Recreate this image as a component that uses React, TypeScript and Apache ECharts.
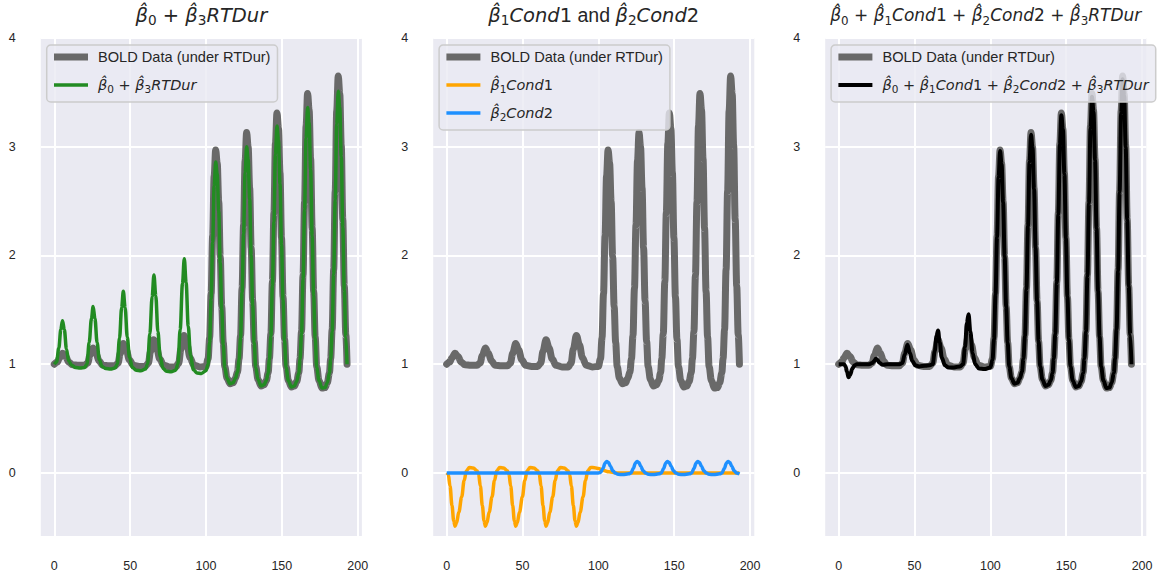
import React, { useEffect, useRef } from 'react';
import * as echarts from 'echarts';

// ---------- names / ticks ----------
const BOLD_NAME = 'BOLD Data (under RTDur)';
const RT_NAME = 'β̂₀ + β̂₃RTDur';
const C1_NAME = 'β̂₁Cond1';
const C2_NAME = 'β̂₂Cond2';
const FULL_NAME = 'β̂₀ + β̂₁Cond1 + β̂₂Cond2 + β̂₃RTDur';

const xTicks = [0, 50, 100, 150, 200];
const yTicks = [0, 1, 2, 3, 4];

// ---------- data ----------
const boldData: [number, number][] = [
  [0, 1.0], [2, 1.02], [3.5, 1.06], [5.5, 1.1], [7.5, 1.07], [9.5, 1.02], [12, 0.995], [16, 0.99],
  [20, 0.99], [22, 1.01], [23.5, 1.08], [25.5, 1.15], [27.5, 1.1], [29.5, 1.03], [32, 0.99], [36, 0.985],
  [40, 0.985], [42, 1.01], [43.5, 1.1], [45.5, 1.19], [47.5, 1.13], [49.5, 1.04], [52, 0.99], [56, 0.98],
  [60, 0.98], [62, 1.01], [63.5, 1.12], [65.5, 1.225], [67.5, 1.15], [69.5, 1.05], [72, 0.99], [76, 0.975],
  [80, 0.975], [82, 1.01], [83.5, 1.14], [85.5, 1.265], [87.5, 1.18], [89.5, 1.06], [92, 0.99], [96, 0.975],
  [100, 0.98],
  [101.4, 1.05], [102.4, 1.24], [103.4, 1.65], [104.4, 2.18], [105.4, 2.73], [106.4, 2.97], [107.4, 2.85], [108.4, 2.5],
  [109.4, 1.99], [110.4, 1.53], [111.4, 1.2], [112.4, 0.98], [113.9, 0.87], [115.9, 0.82], [117.9, 0.83], [119.4, 0.87], [120.8, 0.93],
  [121.8, 1.05], [122.8, 1.26], [123.8, 1.7], [124.8, 2.28], [125.8, 2.87], [126.8, 3.13], [127.8, 3.0], [128.8, 2.62],
  [129.8, 2.07], [130.8, 1.58], [131.8, 1.21], [132.8, 0.98], [134.3, 0.86], [136.3, 0.8], [138.3, 0.81], [139.8, 0.85], [141, 0.92],
  [141.8, 1.05], [142.8, 1.28], [143.8, 1.76], [144.8, 2.39], [145.8, 3.03], [146.8, 3.31], [147.8, 3.17], [148.8, 2.76],
  [149.8, 2.16], [150.8, 1.62], [151.8, 1.23], [152.8, 0.98], [154.3, 0.85], [156.3, 0.79], [158.3, 0.8], [159.8, 0.84], [161.2, 0.92],
  [162, 1.05], [163, 1.3], [164, 1.82], [165, 2.49], [166, 3.19], [167, 3.49], [168, 3.34], [169, 2.89],
  [170, 2.25], [171, 1.67], [172, 1.25], [173, 0.98], [174.5, 0.85], [176.5, 0.78], [178.5, 0.785], [180, 0.83], [181.4, 0.92],
  [182.2, 1.05], [183.2, 1.32], [184.2, 1.87], [185.2, 2.59], [186.2, 3.33], [187.2, 3.65], [188.2, 3.49], [189.2, 3.01],
  [190.2, 2.33], [191.2, 1.72], [192.2, 1.27], [193, 1.0],
];

const rtdurFit: [number, number][] = [
  [0, 1.0], [1.5, 1.02], [3, 1.15], [4.3, 1.32], [5.4, 1.4], [6.6, 1.32], [8, 1.14], [9.5, 1.03], [11.5, 0.99], [14, 0.97], [17, 0.965], [20, 0.97],
  [21.5, 1.0], [23, 1.2], [24.5, 1.42], [25.6, 1.53], [26.8, 1.42], [28.2, 1.2], [29.7, 1.04], [31.5, 0.98], [34, 0.96], [37, 0.955], [40, 0.965],
  [41.5, 1.0], [43, 1.24], [44.4, 1.52], [45.5, 1.67], [46.7, 1.52], [48.1, 1.25], [49.6, 1.06], [51.5, 0.97], [54, 0.945], [57, 0.94], [60, 0.955],
  [61.5, 1.0], [63, 1.28], [64.5, 1.62], [65.7, 1.82], [66.9, 1.63], [68.3, 1.3], [69.8, 1.07], [71.7, 0.96], [74, 0.935], [77, 0.93], [80, 0.945],
  [81.5, 1.0], [83, 1.32], [84.5, 1.74], [85.7, 1.97], [86.9, 1.75], [88.3, 1.35], [89.8, 1.08], [91.7, 0.95], [94, 0.92], [97, 0.915], [100, 0.94],
  [101.4, 1.0], [102.4, 1.2], [103.4, 1.6], [104.4, 2.12], [105.4, 2.64], [106.4, 2.86], [107.4, 2.75], [108.4, 2.41],
  [109.4, 1.93], [110.4, 1.5], [111.4, 1.18], [112.4, 0.97], [113.9, 0.87], [115.9, 0.82], [117.9, 0.83], [119.4, 0.87], [120.8, 0.93],
  [121.8, 1.04], [122.8, 1.24], [123.8, 1.66], [124.8, 2.2], [125.8, 2.76], [126.8, 3.0], [127.8, 2.88], [128.8, 2.52],
  [129.8, 2.0], [130.8, 1.54], [131.8, 1.2], [132.8, 0.97], [134.3, 0.86], [136.3, 0.8], [138.3, 0.81], [139.8, 0.85], [141, 0.92],
  [141.8, 1.04], [142.8, 1.26], [143.8, 1.72], [144.8, 2.31], [145.8, 2.93], [146.8, 3.19], [147.8, 3.06], [148.8, 2.66],
  [149.8, 2.1], [150.8, 1.59], [151.8, 1.22], [152.8, 0.97], [154.3, 0.85], [156.3, 0.79], [158.3, 0.8], [159.8, 0.84], [161.2, 0.92],
  [162, 1.04], [163, 1.28], [164, 1.78], [165, 2.42], [166, 3.08], [167, 3.36], [168, 3.22], [169, 2.79],
  [170, 2.18], [171, 1.63], [172, 1.24], [173, 0.97], [174.5, 0.85], [176.5, 0.78], [178.5, 0.785], [180, 0.83], [181.4, 0.92],
  [182.2, 1.04], [183.2, 1.3], [184.2, 1.83], [185.2, 2.51], [186.2, 3.21], [187.2, 3.51], [188.2, 3.36], [189.2, 2.91],
  [190.2, 2.26], [191.2, 1.68], [192.2, 1.25], [193, 1.0],
];

const cond1Fit: [number, number][] = [
  [0, 0], [1, -0.01], [2.2, -0.12], [3.5, -0.3], [4.6, -0.44], [5.5, -0.49], [6.5, -0.46], [8, -0.36], [9.9, -0.22], [11.5, -0.07], [13, 0.02], [15, 0.05], [17.5, 0.045], [20, 0.02],
  [21, -0.01], [22.2, -0.12], [23.5, -0.3], [24.6, -0.44], [25.5, -0.49], [26.5, -0.46], [28, -0.36], [29.9, -0.22], [31.5, -0.07], [33, 0.02], [35, 0.05], [37.5, 0.045], [40, 0.02],
  [41, -0.01], [42.2, -0.12], [43.5, -0.3], [44.6, -0.44], [45.5, -0.49], [46.5, -0.46], [48, -0.36], [49.9, -0.22], [51.5, -0.07], [53, 0.02], [55, 0.05], [57.5, 0.045], [60, 0.02],
  [61, -0.01], [62.2, -0.12], [63.5, -0.3], [64.6, -0.44], [65.5, -0.49], [66.5, -0.46], [68, -0.36], [69.9, -0.22], [71.5, -0.07], [73, 0.02], [75, 0.05], [77.5, 0.045], [80, 0.02],
  [81, -0.01], [82.2, -0.12], [83.5, -0.3], [84.6, -0.44], [85.5, -0.49], [86.5, -0.46], [88, -0.36], [89.9, -0.22], [91.5, -0.07], [93, 0.02], [95, 0.05], [97.5, 0.048],
  [100, 0.04], [103, 0.025], [107, 0.01], [112, 0.0], [193, 0.0],
];

const cond2Fit: [number, number][] = [
  [0, 0], [100, 0], [101.5, 0.005], [103, 0.04], [104.4, 0.09], [105.5, 0.105], [106.7, 0.095], [108, 0.06], [109.5, 0.02], [111, 0.0], [113, -0.012], [116, -0.015], [120, -0.008],
  [121.5, 0.0], [123, 0.04], [124.4, 0.09], [125.5, 0.105], [126.7, 0.095], [128, 0.06], [129.5, 0.02], [131, 0.0], [133, -0.012], [136, -0.015], [140, -0.008],
  [141.5, 0.0], [143, 0.04], [144.4, 0.09], [145.5, 0.105], [146.7, 0.095], [148, 0.06], [149.5, 0.02], [151, 0.0], [153, -0.012], [156, -0.015], [160, -0.008],
  [161.5, 0.0], [163, 0.04], [164.4, 0.09], [165.5, 0.105], [166.7, 0.095], [168, 0.06], [169.5, 0.02], [171, 0.0], [173, -0.012], [176, -0.015], [180, -0.008],
  [181.5, 0.0], [183, 0.04], [184.4, 0.09], [185.5, 0.105], [186.7, 0.095], [188, 0.06], [189.5, 0.02], [191, 0.0], [193, -0.01],
];

const fullFit: [number, number][] = [
  [0, 1.0], [2, 1.0], [3.5, 1.0], [4.5, 0.98], [5.5, 0.93], [6.5, 0.88], [7.5, 0.9], [9, 0.96], [10.5, 0.99], [12, 1.0], [20, 1.0],
  [22, 1.01], [23.5, 1.03], [24.5, 1.05], [25.5, 1.04], [27, 1.01], [29, 0.995], [32, 1.0], [40, 1.0],
  [42, 1.01], [43.5, 1.09], [45.3, 1.18], [47, 1.1], [48.5, 1.03], [50.5, 0.99], [53, 0.98], [57, 0.985], [60, 0.99],
  [62, 1.0], [63.3, 1.12], [64.5, 1.26], [65.5, 1.31], [66.6, 1.2], [68, 1.06], [70, 0.99], [72.5, 0.97], [76, 0.97], [80, 0.98],
  [82, 1.0], [83.3, 1.16], [84.5, 1.38], [85.6, 1.46], [86.8, 1.3], [88.3, 1.1], [90, 1.0], [92.5, 0.96], [96, 0.955], [100, 0.97],
  [101.4, 1.04], [102.4, 1.23], [103.4, 1.64], [104.4, 2.17], [105.4, 2.72], [106.4, 2.96], [107.4, 2.84], [108.4, 2.49],
  [109.4, 1.99], [110.4, 1.53], [111.4, 1.2], [112.4, 0.98], [113.9, 0.87], [115.9, 0.82], [117.9, 0.83], [119.4, 0.87], [120.8, 0.93],
  [121.8, 1.05], [122.8, 1.26], [123.8, 1.69], [124.8, 2.27], [125.8, 2.86], [126.8, 3.11], [127.8, 2.99], [128.8, 2.61],
  [129.8, 2.07], [130.8, 1.58], [131.8, 1.21], [132.8, 0.98], [134.3, 0.86], [136.3, 0.8], [138.3, 0.81], [139.8, 0.85], [141, 0.92],
  [141.8, 1.05], [142.8, 1.28], [143.8, 1.75], [144.8, 2.38], [145.8, 3.02], [146.8, 3.29], [147.8, 3.16], [148.8, 2.75],
  [149.8, 2.16], [150.8, 1.62], [151.8, 1.23], [152.8, 0.98], [154.3, 0.85], [156.3, 0.79], [158.3, 0.8], [159.8, 0.84], [161.2, 0.92],
  [162, 1.05], [163, 1.3], [164, 1.81], [165, 2.48], [166, 3.17], [167, 3.46], [168, 3.32], [169, 2.88],
  [170, 2.25], [171, 1.67], [172, 1.25], [173, 0.98], [174.5, 0.85], [176.5, 0.78], [178.5, 0.785], [180, 0.83], [181.4, 0.92],
  [182.2, 1.05], [183.2, 1.32], [184.2, 1.86], [185.2, 2.58], [186.2, 3.31], [187.2, 3.62], [188.2, 3.47], [189.2, 3.0],
  [190.2, 2.33], [191.2, 1.72], [192.2, 1.27], [193, 1.0],
];

// ---------- styling ----------
const TEXT = '#262626';
const GRAY = '#696969';
const GREEN = '#228B22';
const ORANGE = '#FFA500';
const BLUE = '#1E90FF';
const BLACK = '#000000';

const PANEL_LEFT = [40.8, 433.2, 825.2];
const PANEL_W = 321.1;
const PANEL_TOP = 38;
const PANEL_H = 498;
const TITLE_SIZE = [19.5, 19.5, 17];

function titleRich(size: number) {
  const lh = 24;
  return {
    m: { fontFamily: 'DejaVu Sans', fontStyle: 'italic', fontWeight: 'normal', fontSize: size, color: TEXT, lineHeight: lh },
    r: { fontFamily: 'DejaVu Sans', fontWeight: 'normal', fontSize: size, color: TEXT, lineHeight: lh },
    s: { fontFamily: 'DejaVu Sans', fontWeight: 'normal', fontSize: size * 0.7, color: TEXT, lineHeight: 14, verticalAlign: 'bottom' },
    t: { fontFamily: 'Liberation Sans', fontWeight: 'normal', fontSize: size, color: TEXT, lineHeight: lh },
  };
}
const legendRich = {
  sp: { width: 5, fontSize: 14.6, lineHeight: 18 },
  m: { fontFamily: 'DejaVu Sans', fontStyle: 'italic', fontSize: 14.5, color: TEXT, lineHeight: 18 },
  r: { fontFamily: 'DejaVu Sans', fontSize: 14.5, color: TEXT, lineHeight: 18 },
  s: { fontFamily: 'DejaVu Sans', fontSize: 10.5, color: TEXT, lineHeight: 11, verticalAlign: 'bottom' },
  t: { fontFamily: 'Liberation Sans', fontSize: 14.6, color: TEXT, lineHeight: 18 },
};

const richLabel: Record<string, string> = {
  [BOLD_NAME]: '{t|BOLD Data (under RTDur)}',
  [RT_NAME]: '{m|β̂}{s|0}{r| + }{m|β̂}{s|3}{m|RTDur}',
  [C1_NAME]: '{m|β̂}{s|1}{m|Cond}{r|1}',
  [C2_NAME]: '{m|β̂}{s|2}{m|Cond}{r|2}',
  [FULL_NAME]: '{m|β̂}{s|0}{r| + }{m|β̂}{s|1}{m|Cond}{r|1}{r| + }{m|β̂}{s|2}{m|Cond}{r|2}{r| + }{m|β̂}{s|3}{m|RTDur}',
};

const titles = [
  '{m|β̂}{s|0}{r| + }{m|β̂}{s|3}{m|RTDur}',
  '{m|β̂}{s|1}{m|Cond}{r|1}{t| and }{m|β̂}{s|2}{m|Cond}{r|2}',
  '{m|β̂}{s|0}{r| + }{m|β̂}{s|1}{m|Cond}{r|1}{r| + }{m|β̂}{s|2}{m|Cond}{r|2}{r| + }{m|β̂}{s|3}{m|RTDur}',
];

const legendNames = [
  [BOLD_NAME, RT_NAME],
  [BOLD_NAME, C1_NAME, C2_NAME],
  [BOLD_NAME, FULL_NAME],
];

function lineSeries(name: string, data: [number, number][], idx: number, color: string, width: number, cap: string) {
  return {
    type: 'line',
    name,
    data,
    xAxisIndex: idx,
    yAxisIndex: idx,
    showSymbol: false,
    symbol: 'none',
    smooth: 0.35,
    smoothMonotone: 'x',
    silent: true,
    lineStyle: { color, width, cap, join: 'round' },
    itemStyle: { color },
  };
}

export default function App() {
  const ref = useRef<HTMLDivElement>(null);
  useEffect(() => {
    const chart = echarts.init(ref.current!, null, { renderer: 'svg' });
    const option: any = {
      animation: false,
      backgroundColor: '#ffffff',
      title: titles.map((t, i) => ({
        text: t,
        left: PANEL_LEFT[i] + PANEL_W / 2,
        top: 3,
        padding: 0,
        textAlign: 'center',
        textStyle: { rich: titleRich(TITLE_SIZE[i]), color: TEXT, fontWeight: 'normal' },
      })),
      legend: legendNames.map((names, i) => ({
        orient: 'vertical',
        left: PANEL_LEFT[i] + 5.9,
        top: 45,
        itemWidth: 34,
        itemHeight: 14,
        itemGap: 10,
        padding: [3, 7, 8, 3.8],
        backgroundColor: 'rgba(234,234,242,0.8)',
        borderColor: '#CCCCCC',
        borderWidth: 1.5,
        borderRadius: 4,
        selectedMode: false,
        data: names,
        formatter: (name: string) => '{sp| }' + richLabel[name],
        textStyle: { color: TEXT, fontSize: 14.6, lineHeight: 18, rich: legendRich },
        itemStyle: { opacity: 0 },
        lineStyle: { width: 'inherit', cap: 'butt' },
      })),
      grid: [0, 1, 2].map((i) => ({
        left: PANEL_LEFT[i],
        top: PANEL_TOP,
        width: PANEL_W,
        height: PANEL_H,
        show: true,
        backgroundColor: '#EAEAF2',
        borderWidth: 0,
        containLabel: false,
        outerBoundsMode: 'none',
      })),
      xAxis: [0, 1, 2].map((i) => ({
        gridIndex: i,
        type: 'value',
        min: -8.9,
        max: 202.8,
        axisLine: { show: false },
        axisTick: { show: false, customValues: xTicks },
        axisLabel: { customValues: xTicks, margin: 23, color: TEXT, fontSize: 12.5, fontFamily: 'Liberation Sans' },
        splitLine: { show: true, lineStyle: { color: '#FFFFFF', width: 2 } },
      })),
      yAxis: [0, 1, 2].map((i) => ({
        gridIndex: i,
        type: 'value',
        min: -0.58,
        max: 4,
        axisLine: { show: false },
        axisTick: { show: false, customValues: yTicks },
        axisLabel: { customValues: yTicks, margin: 25, color: TEXT, fontSize: 12.5, fontFamily: 'Liberation Sans' },
        splitLine: { show: true, lineStyle: { color: '#FFFFFF', width: 2 } },
      })),
      series: [
        lineSeries(BOLD_NAME, boldData, 0, GRAY, 7, 'round'),
        lineSeries(RT_NAME, rtdurFit, 0, GREEN, 3.5, 'butt'),
        lineSeries(BOLD_NAME, boldData, 1, GRAY, 7, 'round'),
        lineSeries(C1_NAME, cond1Fit, 1, ORANGE, 3.5, 'butt'),
        lineSeries(C2_NAME, cond2Fit, 1, BLUE, 3.5, 'butt'),
        lineSeries(BOLD_NAME, boldData, 2, GRAY, 7, 'round'),
        lineSeries(FULL_NAME, fullFit, 2, BLACK, 4, 'butt'),
      ],
    };
    chart.setOption(option);
    return () => chart.dispose();
  }, []);
  return (
    <div
      ref={ref}
      style={{ position: 'absolute', left: 0, top: 0, width: 1158, height: 580 }}
    />
  );
}
